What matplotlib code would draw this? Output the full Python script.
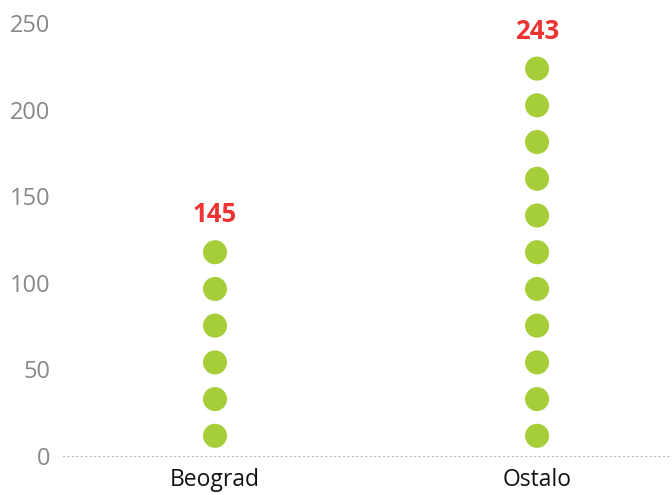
import matplotlib
matplotlib.use("Agg")
import matplotlib.pyplot as plt
import numpy as np

plt.rcParams["font.family"] = ["Open Sans", "DejaVu Sans"]

categories = ["Beograd", "Ostalo"]
values = [145, 243]
dot_unit = 21.2  # value represented by one dot
yticks = [0, 50, 100, 150, 200, 250]

dot_color = "#A6CE39"
label_color = "#EE3333"

fig = plt.figure(figsize=(6.72, 4.95), dpi=100)
ax = fig.add_axes([63/672, 39/495, 1 - 63/672, (472 - 39)/495])

for i, (cat, v) in enumerate(zip(categories, values)):
    n = int(v // dot_unit)
    ys = (np.arange(n) + 0.55) * dot_unit
    ax.scatter(np.full(n, i), ys, s=300, color=dot_color, edgecolors="none", zorder=3)
    ax.text(i, (n + 0.55) * dot_unit + 0.5, str(v), ha="center", va="center",
            fontsize=18.5, fontweight="bold", color=label_color)

ax.set_xlim(-0.472, 1.419)
ax.set_ylim(0, 250)
ax.set_xticks(range(len(categories)))
ax.set_xticklabels(categories, fontsize=16.5, color="#111111")
ax.set_yticks(yticks)
ax.set_yticklabels([str(t) for t in yticks], fontsize=17, color="#888888")
ax.tick_params(axis="both", length=0)
ax.tick_params(axis="y", pad=9)
ax.tick_params(axis="x", pad=9)
for s in ["top", "right", "left"]:
    ax.spines[s].set_visible(False)
ax.spines["bottom"].set_color("#BBBBBB")
ax.spines["bottom"].set_linestyle((0, (1, 3)))
ax.spines["bottom"].set_linewidth(0.8)

fig.savefig("out.png", dpi=100)
